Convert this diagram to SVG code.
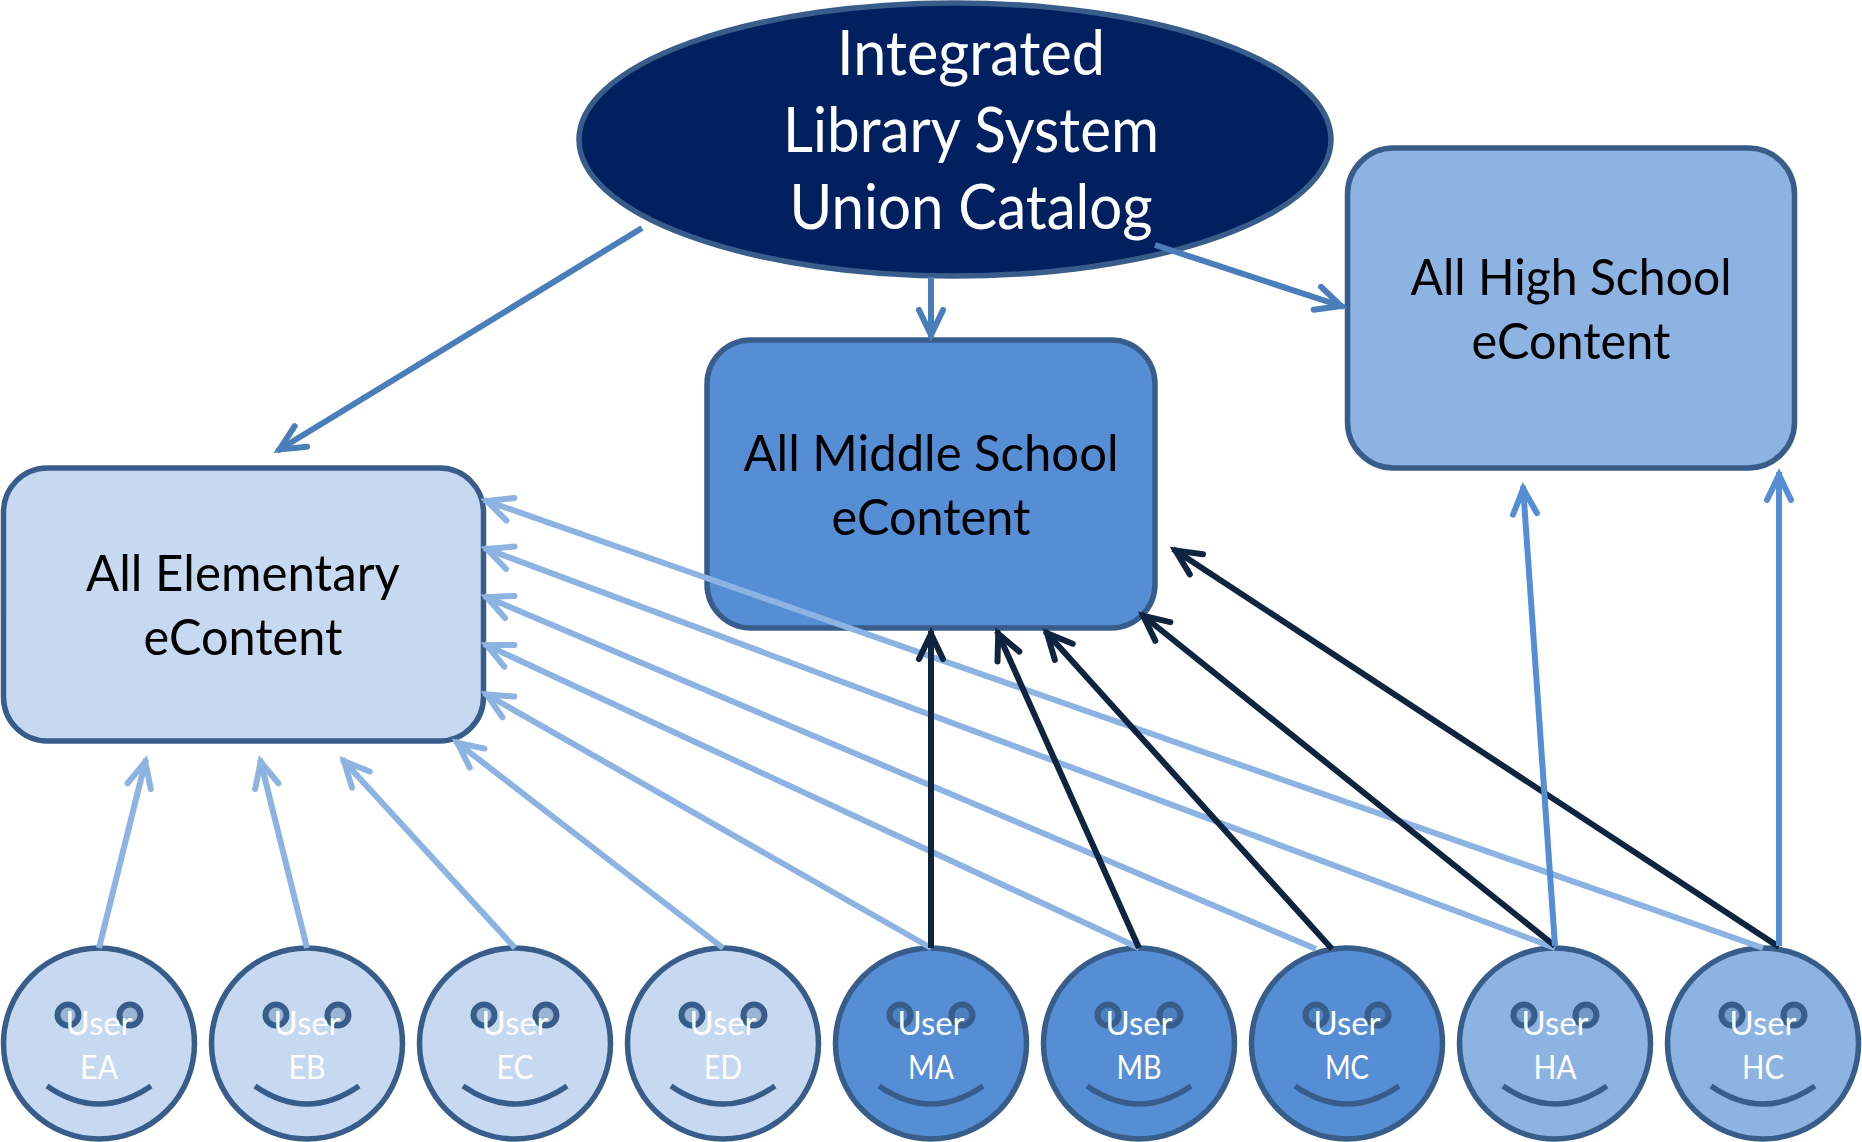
<svg xmlns="http://www.w3.org/2000/svg" xmlns:xlink="http://www.w3.org/1999/xlink" width="1862" height="1142" viewBox="0 0 1862 1142">
<style>
text{font-family:Lato,"Open Sans",sans-serif;text-anchor:middle}
.s{stroke:#385D8A;stroke-width:5.500}
.e{fill:#C6D9F1}.m{fill:#558ED5}.h{fill:#8DB3E2}
.big{font-size:62px;fill:#fff}
.box{font-size:50px;fill:#000}
.u{font-size:33px;fill:#fff}
.eye{fill:#385D8A;fill-opacity:.3;stroke:#385D8A;stroke-width:6}
.mouth{fill:none;stroke:#385D8A;stroke-width:5.500}
.c{fill:none;stroke-width:6}
.lt{stroke:#8DB3E2}.dk{stroke:#0F243E}.bl{stroke:#558ED5}.tp{stroke:#4A7EBB}
</style>
<defs>
<path id="head" d="M-25,-12 L0,0 L-25,12" fill="none" stroke-width="6" stroke-linecap="round" stroke-linejoin="miter"/>
<marker id="aLt" markerUnits="userSpaceOnUse" markerWidth="60" markerHeight="60" viewBox="-40 -30 60 60" refX="3" refY="0" orient="auto"><use xlink:href="#head" href="#head" stroke="#8DB3E2"/></marker>
<marker id="aDk" markerUnits="userSpaceOnUse" markerWidth="60" markerHeight="60" viewBox="-40 -30 60 60" refX="3" refY="0" orient="auto"><use xlink:href="#head" href="#head" stroke="#0F243E"/></marker>
<marker id="aBl" markerUnits="userSpaceOnUse" markerWidth="60" markerHeight="60" viewBox="-40 -30 60 60" refX="3" refY="0" orient="auto"><use xlink:href="#head" href="#head" stroke="#558ED5"/></marker>
<marker id="aTp" markerUnits="userSpaceOnUse" markerWidth="60" markerHeight="60" viewBox="-40 -30 60 60" refX="3" refY="0" orient="auto"><use xlink:href="#head" href="#head" stroke="#4A7EBB"/></marker>
<g id="face">
<circle cx="68" cy="1015" r="10.5" class="eye"/><circle cx="130" cy="1015" r="10.5" class="eye"/>
<path d="M47,1086 Q99,1122 151,1086" class="mouth"/>
</g>
</defs>
<g id="ils">
<ellipse cx="955" cy="139.5" rx="376" ry="136.5" fill="#002060" class="s"/>
<text class="big" x="971" y="75" textLength="268" lengthAdjust="spacingAndGlyphs">Integrated</text>
<text class="big" x="971" y="152" textLength="376" lengthAdjust="spacingAndGlyphs">Library System</text>
<text class="big" x="971" y="229" textLength="363" lengthAdjust="spacingAndGlyphs">Union Catalog</text>
</g>
<g id="middle">
<rect x="707" y="340" width="448" height="288" rx="44" class="m s"/>
<text class="box" x="931" y="471" textLength="375" lengthAdjust="spacingAndGlyphs">All Middle School</text>
<text class="box" x="931" y="535" textLength="199" lengthAdjust="spacingAndGlyphs">eContent</text>
</g>
<g id="high">
<rect x="1347.500" y="148" width="447" height="320" rx="46" class="h s"/>
<text class="box" x="1571" y="295" textLength="321" lengthAdjust="spacingAndGlyphs">All High School</text>
<text class="box" x="1571" y="359" textLength="199" lengthAdjust="spacingAndGlyphs">eContent</text>
</g>
<g id="elementary">
<rect x="3.500" y="468" width="480" height="273" rx="44" class="e s"/>
<text class="box" x="243" y="591" textLength="314" lengthAdjust="spacingAndGlyphs">All Elementary</text>
<text class="box" x="243" y="655" textLength="199" lengthAdjust="spacingAndGlyphs">eContent</text>
</g>
<g id="user-ea"><circle cx="99" cy="1043.500" r="95.500" class="e s"/><use href="#face" x="0"/><text class="u" x="99" y="1035" textLength="67" lengthAdjust="spacingAndGlyphs">User</text><text class="u" x="99" y="1079" textLength="38" lengthAdjust="spacingAndGlyphs">EA</text></g>
<g id="user-eb"><circle cx="307" cy="1043.500" r="95.500" class="e s"/><use href="#face" x="208"/><text class="u" x="307" y="1035" textLength="67" lengthAdjust="spacingAndGlyphs">User</text><text class="u" x="307" y="1079" textLength="37" lengthAdjust="spacingAndGlyphs">EB</text></g>
<g id="user-ec"><circle cx="515" cy="1043.500" r="95.500" class="e s"/><use href="#face" x="416"/><text class="u" x="515" y="1035" textLength="67" lengthAdjust="spacingAndGlyphs">User</text><text class="u" x="515" y="1079" textLength="37" lengthAdjust="spacingAndGlyphs">EC</text></g>
<g id="user-ed"><circle cx="723" cy="1043.500" r="95.500" class="e s"/><use href="#face" x="624"/><text class="u" x="723" y="1035" textLength="67" lengthAdjust="spacingAndGlyphs">User</text><text class="u" x="723" y="1079" textLength="38" lengthAdjust="spacingAndGlyphs">ED</text></g>
<g id="user-ma"><circle cx="931" cy="1043.500" r="95.500" class="m s"/><use href="#face" x="832"/><text class="u" x="931" y="1035" textLength="67" lengthAdjust="spacingAndGlyphs">User</text><text class="u" x="931" y="1079" textLength="46" lengthAdjust="spacingAndGlyphs">MA</text></g>
<g id="user-mb"><circle cx="1139" cy="1043.500" r="95.500" class="m s"/><use href="#face" x="1040"/><text class="u" x="1139" y="1035" textLength="67" lengthAdjust="spacingAndGlyphs">User</text><text class="u" x="1139" y="1079" textLength="45" lengthAdjust="spacingAndGlyphs">MB</text></g>
<g id="user-mc"><circle cx="1347" cy="1043.500" r="95.500" class="m s"/><use href="#face" x="1248"/><text class="u" x="1347" y="1035" textLength="67" lengthAdjust="spacingAndGlyphs">User</text><text class="u" x="1347" y="1079" textLength="44" lengthAdjust="spacingAndGlyphs">MC</text></g>
<g id="user-ha"><circle cx="1555" cy="1043.500" r="95.500" class="h s"/><use href="#face" x="1456"/><text class="u" x="1555" y="1035" textLength="67" lengthAdjust="spacingAndGlyphs">User</text><text class="u" x="1555" y="1079" textLength="43" lengthAdjust="spacingAndGlyphs">HA</text></g>
<g id="user-hc"><circle cx="1763" cy="1043.500" r="95.500" class="h s"/><use href="#face" x="1664"/><text class="u" x="1763" y="1035" textLength="67" lengthAdjust="spacingAndGlyphs">User</text><text class="u" x="1763" y="1079" textLength="42" lengthAdjust="spacingAndGlyphs">HC</text></g>
<g id="connectors">
<path class="c tp" marker-end="url(#aTp)" d="M642,228 L277,451"/>
<path class="c tp" marker-end="url(#aTp)" d="M931,277 L931,338"/>
<path class="c tp" marker-end="url(#aTp)" d="M1155,245 L1344,307"/>
<path class="c lt" marker-end="url(#aLt)" d="M99,948 L146,759"/>
<path class="c lt" marker-end="url(#aLt)" d="M307,948 L260,759"/>
<path class="c lt" marker-end="url(#aLt)" d="M515,948 L342,759"/>
<path class="c lt" marker-end="url(#aLt)" d="M723,948 L455,741"/>
<path class="c lt" marker-end="url(#aLt)" d="M931,948 L484,693"/>
<path class="c lt" marker-end="url(#aLt)" d="M1139,948 L484,644"/>
<path class="c lt" marker-end="url(#aLt)" d="M1316,949 L484,596"/>
<path class="c lt" marker-end="url(#aLt)" d="M1555,948 L484,548"/>
<path class="c lt" marker-end="url(#aLt)" d="M1763,948 L484,500"/>
<path class="c dk" marker-end="url(#aDk)" d="M931,948 L931,631"/>
<path class="c dk" marker-end="url(#aDk)" d="M1139,948 L997,631"/>
<path class="c dk" marker-end="url(#aDk)" d="M1332,949 L1045,631"/>
<path class="c dk" marker-end="url(#aDk)" d="M1555,946 L1141,614"/>
<path class="c dk" marker-end="url(#aDk)" d="M1779,947 L1173,549"/>
<path class="c bl" marker-end="url(#aBl)" d="M1555,946 L1523,486"/>
<path class="c bl" marker-end="url(#aBl)" d="M1779,946 L1779,472"/>
</g>
</svg>
